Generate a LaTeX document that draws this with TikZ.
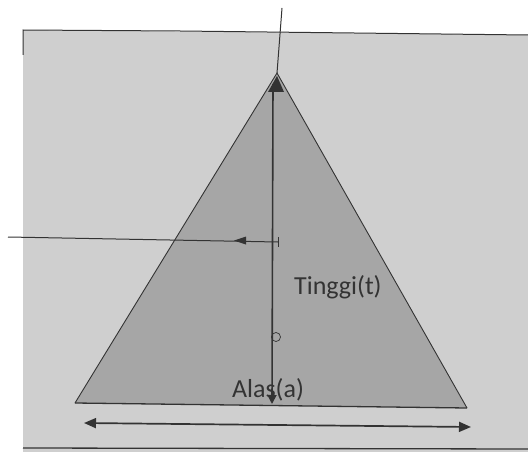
\documentclass[tikz,border=0pt]{standalone}
\usepackage{fontspec}
\setmainfont{Carlito}
\usetikzlibrary{arrows.meta}
\definecolor{bggray}{HTML}{CFCFCF}
\definecolor{trigray}{HTML}{A6A6A6}
\definecolor{ink}{HTML}{333333}
\tikzset{
  thinline/.style={draw=ink, line width=1pt},
  arr/.style={draw=ink, line width=1.6pt, -{Triangle[length=9pt,width=9pt]}},
  dblarr/.style={draw=ink, line width=1.7pt, {Triangle[length=12pt,width=10pt]}-{Triangle[length=12pt,width=10pt]}},
  lbl/.style={font=\fontsize{26}{30}\selectfont, text=ink, inner sep=0pt}
}
\begin{document}
\begin{tikzpicture}[x=1pt,y=-1pt]
\useasboundingbox (0,0) rectangle (528,452);
\fill[white] (0,0) rectangle (528,452);
% background panel
\fill[bggray] (23,30) -- (528,35) -- (528,452) -- (23,452) -- cycle;
\draw[ink, line width=1pt] (23,55) -- (23,30) -- (180,31) -- (528,35);
\draw[ink, line width=1.3pt] (23,448) -- (528,449);
% triangle
\coordinate (apex) at (277,73);
\coordinate (bl) at (75,403);
\coordinate (br) at (467,408);
\fill[trigray] (apex) -- (br) -- (bl) -- cycle;
\draw[ink, line width=0.9pt] (bl) -- (apex) -- (br);
\draw[ink, line width=1.3pt] (bl) -- (br);
% vertical lines
\coordinate (topend) at (282,8);
\coordinate (htop) at (273,84);
\coordinate (hbot) at (272,404);
\draw[thinline] (topend) -- (apex);
\fill[ink] (277,76) -- (284,92) -- (268,92) -- cycle;
\draw[arr] (htop) -- (hbot);
\node[draw=ink, circle, minimum size=9pt, inner sep=0pt, line width=0.7pt] (circ) at (276,337) {};
% horizontal line
\coordinate (hl) at (8,237);
\coordinate (hr) at (278,242);
\draw[thinline] (hl) -- (hr);
\draw[ink, line width=1pt] (hr) ++(0,-5) -- ++(0,10);
\fill[ink] (234,240.5) -- (246,236.5) -- (246,244.5) -- cycle;
% base arrow
\coordinate (al) at (84,423);
\coordinate (ar) at (471,427);
\draw[dblarr] (al) -- (ar);
% labels
\node[lbl, anchor=west] (tinggi) at (294,287) {Tinggi(t)};
\node[lbl] (alas) at (268,390) {Alas(a)};
\end{tikzpicture}
\end{document}
